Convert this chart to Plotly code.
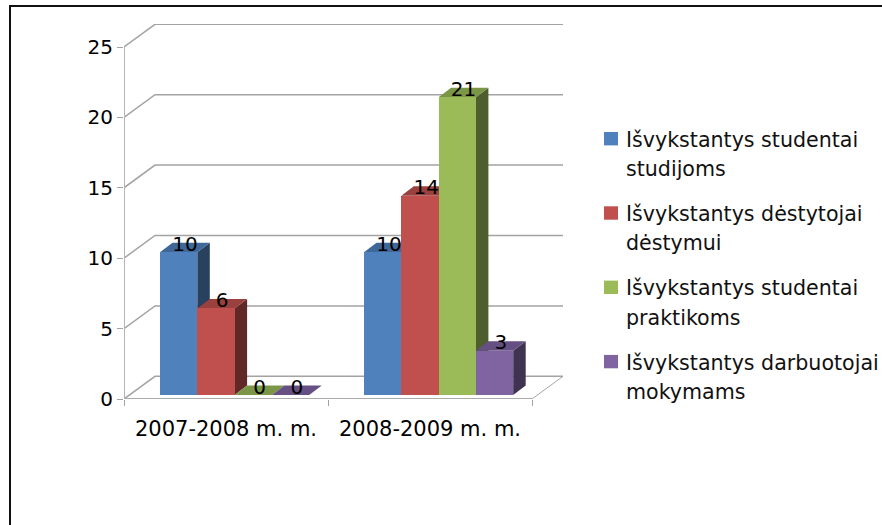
import plotly.graph_objects as go

categories = ["2007-2008 m. m.", "2008-2009 m. m."]
series_lines = [
    ["Išvykstantys studentai", "studijoms"],
    ["Išvykstantys dėstytojai", "dėstymui"],
    ["Išvykstantys studentai", "praktikoms"],
    ["Išvykstantys darbuotojai", "mokymams"],
]
studentai_studijoms = [10, 10]
destytojai_destymui = [6, 14]
studentai_praktikoms = [0, 21]
darbuotojai_mokymams = [0, 3]
y_ticks = [0, 5, 10, 15, 20, 25]

all_values = [studentai_studijoms, destytojai_destymui, studentai_praktikoms, darbuotojai_mokymams]
front = ["#4F81BD", "#C0504D", "#9BBB59", "#8064A2"]
top = ["#3F6797", "#9A403E", "#7C9647", "#664F82"]
side = ["#28415F", "#602827", "#4E5E2D", "#403251"]

FONT = "DejaVu Sans"
PX_X, PX_Y = 204.0, 14.08         # pixels per category / per unit
WALL_DX, WALL_DY = 31 / PX_X, 22.7 / PX_Y
BAR_DX, BAR_DY = 12.5 / PX_X, 9.5 / PX_Y
BASE, LIFT = 0.28, 0.15
START, SLOT = 36 / PX_X, 37.3 / PX_X
X_MAX = (563 - 124) / PX_X
Y_MAX = (399 - 24) / PX_Y
GRID = "#A3A3A3"


def pxx(p):
    return (p - 124) / 439


def pxy(p):
    return (399 - p) / 375


def poly(points, color):
    path = "M" + "L".join(f"{x:.5f},{y:.5f}" for x, y in points) + "Z"
    return dict(type="path", path=path, xref="x", yref="y", layer="below",
                fillcolor=color, line=dict(width=0))


def polyline(points, color=GRID, width=1.5):
    path = "M" + "L".join(f"{x:.5f},{y:.5f}" for x, y in points)
    return dict(type="path", path=path, xref="x", yref="y", layer="below",
                line=dict(color=color, width=width))


shapes = []
# back wall gridlines and floor
for v in y_ticks:
    shapes.append(polyline([(0, v), (WALL_DX, v + WALL_DY), (X_MAX, v + WALL_DY)]))
shapes.append(polyline([(X_MAX, WALL_DY), (2, 0)], width=1))
shapes.append(polyline([(0, 0), (2, 0)], color="#ABABAB", width=2))
shapes.append(polyline([(0, 0), (0, 25)], color="#B5B5B5", width=2))

fig = go.Figure()
label_x, label_y, label_t = [], [], []

# depth faces, drawn left to right beneath the fronts
for g in range(len(categories)):
    for s, vals in enumerate(all_values):
        v = vals[g]
        x0 = g + START + s * SLOT
        x1 = x0 + SLOT
        t = v + BASE + LIFT if v > 0 else BASE
        if v > 0:
            shapes.append(poly([(x1, BASE), (x1 + BAR_DX, BASE + BAR_DY),
                                (x1 + BAR_DX, t + BAR_DY), (x1, t)], side[s]))
        shapes.append(poly([(x0, t), (x1, t), (x1 + BAR_DX, t + BAR_DY),
                            (x0 + BAR_DX, t + BAR_DY)], top[s]))
        label_x.append((x0 + x1) / 2 + BAR_DX / 2)
        label_y.append(t + 0.45)
        label_t.append(str(v))

for s, vals in enumerate(all_values):
    fig.add_trace(go.Bar(
        x=[g + START + (s + 0.5) * SLOT for g in range(len(categories))],
        y=[v + LIFT if v > 0 else 0 for v in vals],
        base=BASE,
        width=SLOT,
        name=" ".join(series_lines[s]),
        showlegend=False,
        marker=dict(color=front[s], line=dict(width=0)),
    ))

fig.add_trace(go.Scatter(x=label_x, y=label_y, text=label_t, mode="text",
                         textposition="middle center", showlegend=False, cliponaxis=False,
                         textfont=dict(family=FONT, size=20, color="#000000")))

# legend: swatch and two text lines per series
annotations = []
LEG_Y0, LEG_PITCH, LINE_PITCH = 138.7, 74.3, 29.5
for s, lines in enumerate(series_lines):
    yc = LEG_Y0 + s * LEG_PITCH
    shapes.append(dict(type="rect", xref="paper", yref="paper", layer="above",
                       x0=pxx(604), x1=pxx(618), y0=pxy(yc - 6.7), y1=pxy(yc + 6.7),
                       fillcolor=front[s], line=dict(width=0)))
    for i, line in enumerate(lines):
        annotations.append(dict(text=line, xref="paper", yref="paper", x=pxx(625), xanchor="left",
                                y=pxy(yc + i * LINE_PITCH + 1), yanchor="middle", showarrow=False,
                                align="left", borderpad=0,
                                font=dict(family=FONT, size=20.6, color="#111111")))

# outer frame, open to the right and bottom
shapes.append(dict(type="path", xref="paper", yref="paper", layer="above",
                   path=f"M{pxx(10):.5f},{pxy(525):.5f}L{pxx(10):.5f},{pxy(6):.5f}L{pxx(882):.5f},{pxy(6):.5f}",
                   line=dict(color="#111111", width=2)))

fig.update_layout(
    width=882, height=525, autosize=False,
    margin=dict(l=124, r=319, t=24, b=126, autoexpand=False),
    paper_bgcolor="white", plot_bgcolor="rgba(0,0,0,0)",
    barmode="overlay", bargap=0,
    shapes=shapes, annotations=annotations,
    xaxis=dict(range=[0, X_MAX], tickmode="array", tickvals=[0.5, 1.5], ticktext=categories,
               ticks="", showgrid=False, zeroline=False, showline=False, ticklabelstandoff=15,
               tickfont=dict(family=FONT, size=21, color="#000000"),
               minor=dict(tickmode="array", tickvals=[0, 1, 2], ticks="outside", ticklen=6,
                          tickcolor=GRID, tickwidth=1, showgrid=False)),
    yaxis=dict(range=[0, Y_MAX], tickmode="array", tickvals=y_ticks, ticks="outside", ticklen=6,
               tickcolor=GRID, tickwidth=1, showgrid=False, zeroline=False, showline=False,
               tickfont=dict(family=FONT, size=20, color="#000000")),
    showlegend=False,
)

# remove the page's default body margin so that the figure sits at the window's corner
fig.write_html("out.html", config=dict(displayModeBar=False),
               post_script="document.body.style.margin='0';document.documentElement.style.overflow='hidden';")
